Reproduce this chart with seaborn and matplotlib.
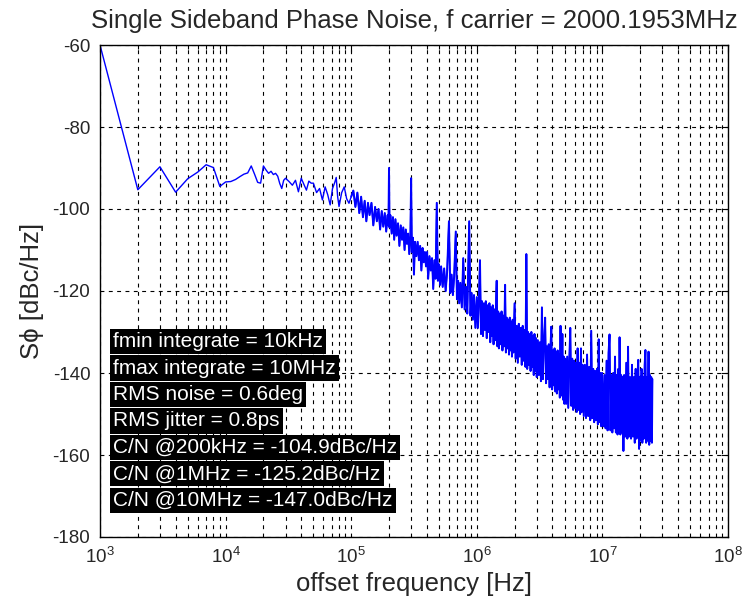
import numpy as np
import pandas as pd
import matplotlib
matplotlib.use("Agg")
import matplotlib.pyplot as plt
import seaborn as sns
from matplotlib.ticker import LogLocator, NullFormatter

# ---------------- data ----------------
# close-in region 1 kHz .. 100 kHz
f_close_khz = [1, 2, 3, 4, 5, 6, 7, 8, 9, 10,
               11, 12, 13, 14, 15, 16, 17, 18, 19, 20,
               21, 22, 23, 24, 25, 26, 27, 28, 29, 30,
               32, 34, 36, 38, 40, 42, 44, 46, 48, 50,
               53, 56, 59, 62, 65, 68, 71, 74, 76, 78,
               80, 84, 88, 92, 96, 100]
l_close = [-60, -95.3, -89.7, -95.9, -92.6, -91, -89.2, -89.9, -94.5, -93.4,
           -93.3, -92.8, -92.1, -91.5, -91.2, -89.5, -91.5, -93.5, -93.7, -89.5,
           -90.5, -91.3, -90.8, -91.6, -91.3, -92, -93.8, -95, -93, -92.5,
           -93.3, -94.2, -93, -95.8, -92.5, -94, -95.4, -93.2, -93.7, -93.7,
           -96, -95, -97.8, -94.6, -96.5, -99, -95, -93.5, -92.3, -97,
           -99.4, -96, -94.6, -97.5, -98.6, -97]

# mid region 100 kHz .. 1 MHz
f_mid_khz = [104, 108, 112, 116, 120, 124, 128, 132, 136, 140,
             145, 150, 155, 160, 165, 170, 175, 180, 185, 190,
             195, 198, 200, 202, 205, 210, 215, 220, 225, 230,
             236, 242, 248, 254, 260, 266, 272, 278, 284, 290,
             296, 300, 304, 310, 316, 322, 330, 338, 346, 354,
             362, 370, 378, 386, 394, 402, 410, 420, 430, 440,
             450, 460, 470, 480, 490, 500, 510, 520, 535, 550,
             565, 580, 600, 615, 630, 645, 660, 680, 695, 710,
             725, 740, 760, 780, 800, 820, 840, 870, 890, 910,
             930, 950, 975, 1000]
l_mid = [-95.5, -99.5, -96, -101, -97, -102, -98, -103, -98.5, -101.5,
         -98.5, -104, -99.5, -103, -100, -105, -100.5, -104.3, -101, -105.5,
         -101.5, -104, -90, -104.5, -101.5, -106, -102, -107.5, -102.5, -106.5,
         -103.5, -109, -104, -107.5, -104.5, -110, -105, -108.5, -106, -111,
         -106.5, -92.5, -110.5, -107, -116, -108, -111.5, -108, -112.5, -109,
         -115, -109.5, -113, -110.5, -114, -110.5, -117, -111.5, -115, -112,
         -119.5, -112.5, -117, -98.5, -117.5, -113.5, -118.5, -114, -119, -114.5,
         -120, -115.5, -103, -120.5, -116, -121, -116.5, -105.5, -122, -117.5,
         -123, -118, -124, -112, -124.5, -119, -125.5, -103, -126, -120.5,
         -127, -121, -129, -121.5]

# 1 MHz .. 5 MHz
f_high_khz = [1020, 1040, 1060, 1080, 1100, 1120, 1140, 1160, 1180, 1200,
              1220, 1240, 1260, 1280, 1300, 1320, 1340, 1360, 1380, 1400,
              1420, 1440, 1460, 1480, 1500,
              1525, 1550, 1575, 1600, 1625, 1650, 1680, 1705, 1730, 1755,
              1780, 1805, 1830, 1855, 1880, 1905, 1930, 1955, 1980, 2000,
              2040, 2080, 2120, 2160, 2200, 2240, 2280, 2320, 2360, 2400,
              2440, 2480, 2520, 2560, 2600, 2640, 2680, 2720, 2760, 2800,
              2840, 2880, 2920, 2960, 3000,
              3060, 3120, 3180, 3240, 3300, 3360, 3420, 3500, 3560, 3620,
              3680, 3740, 3800, 3860, 3920, 3980, 4040, 4100, 4160, 4220,
              4280, 4340, 4400, 4460, 4520, 4580, 4640, 4700, 4760, 4800,
              4860, 4920, 4980]
l_high = [-129, -122, -112.5, -130.5, -122.5, -131, -123, -129.5, -122.5, -131.5,
          -123.5, -130, -123, -132.5, -124, -131, -123.5, -133, -124.5, -132,
          -124, -117.5, -133.5, -125, -134,
          -125.5, -133, -125, -134.5, -126, -133.5, -118.5, -135, -126.5, -134,
          -127, -135.5, -126.5, -134.5, -127.5, -136, -127, -135, -128, -123,
          -136.5, -128.5, -137.5, -128, -136, -129, -138, -128.5, -137, -129.5,
          -138.5, -111, -139, -130, -138, -130.5, -139.5, -130, -138.5, -131,
          -140.5, -130.5, -139.5, -131.5, -141,
          -132, -140.5, -132.5, -142, -124, -141.5, -133, -126.5, -142.5, -133.5,
          -141.5, -133, -143.5, -134, -128.7, -144, -134.5, -143, -134, -144.5,
          -135, -145, -134.5, -144, -135.5, -146, -128.5, -145.5, -136, -130.5,
          -146.5, -136, -147.5]

# 5 MHz .. 25 MHz
f_far_khz = [5050, 5150, 5250, 5350, 5450, 5550, 5650, 5750, 5850, 5950,
             6050, 6150, 6250, 6350, 6450, 6550, 6650, 6750, 6850, 6950,
             7100, 7250, 7400, 7550, 7700, 7850, 8000, 8150, 8300, 8450,
             8600, 8750, 8900, 9050, 9200, 9350, 9500, 9650, 9800, 9950,
             10200, 10400, 10600, 10800, 11000, 11200, 11400, 11600, 11800, 12000,
             12200, 12400, 12600, 12800, 13000, 13200, 13400, 13600, 13700, 13900,
             14100, 14300, 14500, 14700, 14900,
             15200, 15500, 15800, 16000, 16300, 16600, 16900, 17200, 17500, 17800,
             18100, 18400, 18700, 19000, 19300, 19600, 19900, 20200, 20500, 20800,
             21100, 21400, 21700, 22000, 22300, 22600, 22900, 23300, 23600, 23900,
             24200, 24500, 24800, 25000]
l_far = [-136.5, -147.5, -136, -148.5, -137, -129, -148, -136.5, -149, -137,
         -148.5, -137.5, -149.5, -134, -149, -137.5, -150, -134, -149.5, -138,
         -150.5, -138, -151, -135.5, -150.5, -138.5, -151.5, -129.7, -151, -139,
         -152, -139.5, -151.5, -139, -152.5, -131.8, -152, -140, -153, -140,
         -153, -140.5, -153.5, -137, -154, -135, -130.6, -154, -140.5, -154.5,
         -140, -153.5, -136, -154.5, -140.5, -155, -139, -154, -131.3, -155,
         -140.5, -154.5, -141, -159, -140.5,
         -155.5, -137.5, -156, -133.6, -155.5, -141, -156, -138, -155.5, -141,
         -157, -139, -156, -141, -136.8, -158.5, -141, -156.5, -139, -157,
         -141, -156, -138, -134.4, -157, -141, -156.5, -134.8, -157.5, -140.5,
         -156.5, -141, -157, -141.5]

y_ticks = [-180, -160, -140, -120, -100, -80, -60]

info_lines = ["fmin integrate = 10kHz",
              "fmax integrate = 10MHz",
              "RMS noise = 0.6deg",
              "RMS jitter = 0.8ps",
              "C/N @200kHz = -104.9dBc/Hz",
              "C/N @1MHz = -125.2dBc/Hz",
              "C/N @10MHz = -147.0dBc/Hz"]

title = "Single Sideband Phase Noise, f carrier = 2000.1953MHz"
xlabel = "offset frequency [Hz]"
ylabel = "S\u03d5 [dBc/Hz]"

# ---------------- figure ----------------
sns.set_style("white")
plt.rcParams['font.family'] = ['Liberation Sans', 'DejaVu Sans']
plt.rcParams['mathtext.fontset'] = 'custom'
plt.rcParams['mathtext.rm'] = 'Liberation Sans'
plt.rcParams['mathtext.it'] = 'Liberation Sans:italic'
plt.rcParams['mathtext.bf'] = 'Liberation Sans:bold'
plt.rcParams['axes.unicode_minus'] = False

freq_hz = np.array(f_close_khz + f_mid_khz + f_high_khz + f_far_khz, dtype=float) * 1e3
level = np.array(l_close + l_mid + l_high + l_far, dtype=float)
df = pd.DataFrame({"f": freq_hz, "S": level})

noisy_hz = np.array(f_close_khz[-1:] + f_mid_khz + f_high_khz + f_far_khz, dtype=float) * 1e3
noisy_lv = np.array(l_close[-1:] + l_mid + l_high + l_far, dtype=float)
df_noisy = pd.DataFrame({"f": noisy_hz, "S": noisy_lv})

fig = plt.figure(figsize=(7.5, 6.02), dpi=100)
ax = fig.add_axes([100 / 750, 1 - 537 / 602, 628 / 750, 492 / 602])
ax.set_xscale("log")

sns.lineplot(data=df, x="f", y="S", ax=ax, estimator=None, sort=False,
             color="#0000ff", linewidth=1.0)
sns.lineplot(data=df_noisy, x="f", y="S", ax=ax, estimator=None, sort=False,
             color="#0000ff", linewidth=1.4)

ax.set_xlim(1e3, 1e8)
ax.set_ylim(-180, -60)
ax.set_yticks(y_ticks)
ax.xaxis.set_major_locator(LogLocator(base=10, numticks=10))
ax.xaxis.set_minor_locator(LogLocator(base=10, subs=np.arange(2, 10), numticks=100))
ax.xaxis.set_minor_formatter(NullFormatter())

dash = (0, (3.5, 4))
ax.grid(True, which="major", axis="both", color="black", linestyle=dash, linewidth=0.8)
ax.grid(True, which="minor", axis="x", color="black", linestyle=dash, linewidth=0.8)

ax.tick_params(which="both", direction="in", top=True, right=True, color="black")
ax.tick_params(which="major", length=5, width=0.8, labelsize=13.5, pad=7)
ax.tick_params(which="minor", length=3, width=0.8)
for s in ax.spines.values():
    s.set_color("black")
    s.set_linewidth(1.0)

ax.set_title(title, fontsize=18.5, pad=12)
ax.set_xlabel(xlabel, fontsize=18.5, labelpad=4)
ax.set_ylabel(ylabel, fontsize=18.5, labelpad=6)

y0 = 0.397
step = 0.0537
for i, line in enumerate(info_lines):
    ax.text(0.0212, y0 - i * step, line, transform=ax.transAxes,
            fontsize=15, color="white", va="center", ha="left",
            bbox=dict(boxstyle="square,pad=0.15", fc="black", ec="none"))

fig.savefig("out.png", dpi=100)
